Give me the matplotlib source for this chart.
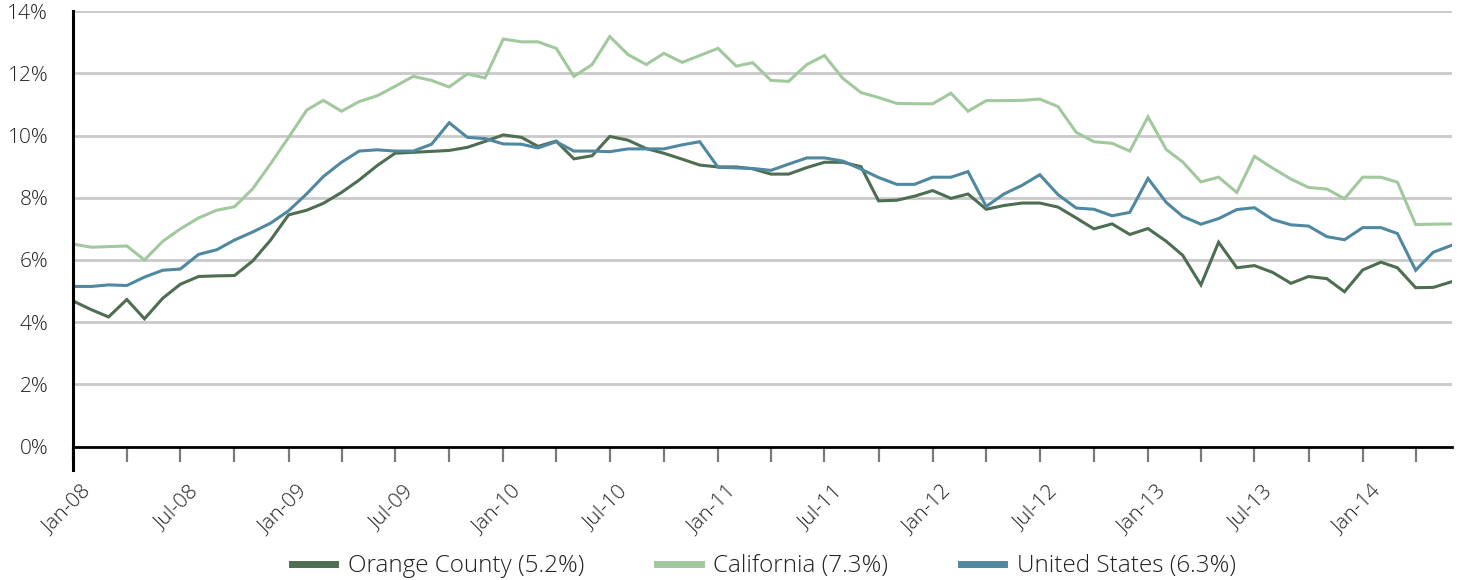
import matplotlib
matplotlib.use('Agg')
import matplotlib.pyplot as plt
import matplotlib.dates as mdates
import matplotlib.transforms as mtransforms
from matplotlib.ticker import FuncFormatter, FixedLocator
import pandas as pd

plt.rcParams['font.family'] = ['Open Sans', 'DejaVu Sans']
plt.rcParams['font.weight'] = 'light'

months = pd.date_range('2008-01-01', periods=78, freq='MS')

orange_county = [4.68, 4.40, 4.17, 4.73, 4.11, 4.77, 5.22, 5.47, 5.49, 5.50,
                 5.97, 6.63, 7.45, 7.60, 7.82, 8.17, 8.57, 9.04, 9.43, 9.46,
                 9.49, 9.52, 9.62, 9.81, 10.02, 9.94, 9.65, 9.82, 9.25, 9.35,
                 9.97, 9.85, 9.58, 9.43, 9.24, 9.05, 8.99, 8.99, 8.93, 8.76,
                 8.76, 8.97, 9.14, 9.14, 9.00, 7.90, 7.92, 8.05, 8.23, 7.98,
                 8.12, 7.63, 7.75, 7.83, 7.83, 7.70, 7.35, 7.00, 7.16, 6.82,
                 7.01, 6.60, 6.15, 5.20, 6.57, 5.75, 5.82, 5.60, 5.25, 5.47,
                 5.40, 4.98, 5.68, 5.93, 5.75, 5.11, 5.12, 5.30]

california = [6.51, 6.41, 6.43, 6.45, 6.00, 6.60, 7.00, 7.35, 7.60, 7.71,
              8.29, 9.08, 9.94, 10.82, 11.13, 10.78, 11.09, 11.28, 11.58, 11.90,
              11.77, 11.56, 11.98, 11.85, 13.10, 13.01, 13.01, 12.80, 11.90, 12.28,
              13.18, 12.60, 12.28, 12.64, 12.35, 12.57, 12.80, 12.23, 12.34, 11.77,
              11.74, 12.28, 12.57, 11.84, 11.38, 11.22, 11.03, 11.02, 11.02, 11.36,
              10.78, 11.12, 11.12, 11.13, 11.17, 10.93, 10.10, 9.80, 9.75, 9.50,
              10.60, 9.55, 9.15, 8.51, 8.66, 8.17, 9.33, 8.95, 8.60, 8.33,
              8.28, 7.97, 8.66, 8.66, 8.50, 7.14, 7.15, 7.16]

united_states = [5.15, 5.15, 5.20, 5.18, 5.45, 5.67, 5.71, 6.18, 6.33, 6.64,
                 6.90, 7.18, 7.58, 8.13, 8.68, 9.14, 9.50, 9.54, 9.50, 9.50,
                 9.72, 10.41, 9.94, 9.90, 9.73, 9.72, 9.60, 9.80, 9.50, 9.50,
                 9.48, 9.57, 9.57, 9.57, 9.70, 9.80, 8.98, 8.96, 8.94, 8.88,
                 9.08, 9.28, 9.28, 9.18, 8.92, 8.65, 8.43, 8.43, 8.66, 8.66,
                 8.84, 7.72, 8.12, 8.40, 8.74, 8.10, 7.67, 7.63, 7.42, 7.53,
                 8.62, 7.85, 7.40, 7.15, 7.33, 7.62, 7.68, 7.30, 7.13, 7.09,
                 6.75, 6.65, 7.04, 7.04, 6.85, 5.67, 6.25, 6.47]

series_labels = ['Orange County (5.2%)', 'California (7.3%)', 'United States (6.3%)']
series_colors = ['#4d6e50', '#a2c89e', '#4f88a0']
y_ticks = [0, 2, 4, 6, 8, 10, 12, 14]

fig = plt.figure(figsize=(14.6, 5.8), dpi=100)
ax = fig.add_axes([0.0502, 0.2298, 0.9440, 0.7512])

for vals, lab, col in zip([orange_county, california, united_states],
                          series_labels, series_colors):
    ax.plot(months, vals, color=col, lw=2.2, label=lab, solid_joinstyle='miter')

ax.set_xlim(months[0], months[-1])
ax.set_ylim(0, 14)
ax.set_yticks(y_ticks)
ax.yaxis.set_major_formatter(FuncFormatter(lambda v, p: f'{v:.0f}%'))
ax.yaxis.grid(True, color='#c9c9c9', lw=2)
ax.set_axisbelow(True)

qticks = [d for d in months if d.month in (1, 4, 7, 10)]
ax.xaxis.set_major_locator(FixedLocator(mdates.date2num(qticks)))

def fmt(v, p):
    d = mdates.num2date(v)
    if d.month in (1, 7):
        return d.strftime('%b-%y')
    return ''
ax.xaxis.set_major_formatter(FuncFormatter(fmt))

ax.tick_params(axis='y', length=0, pad=18, labelsize=15, labelcolor='#222222')
ax.tick_params(axis='x', length=11, width=1.6, color='#7a7a7a', pad=14,
               labelsize=15, labelcolor='#222222')
offset = mtransforms.ScaledTranslation(6 / 72, 0, fig.dpi_scale_trans)
for lbl in ax.get_xticklabels():
    lbl.set_rotation(45)
    lbl.set_ha('right')
    lbl.set_va('top')
    lbl.set_rotation_mode('anchor')
    lbl.set_transform(lbl.get_transform() + offset)

for s in ('top', 'right'):
    ax.spines[s].set_visible(False)
ax.spines['left'].set_color('black')
ax.spines['left'].set_linewidth(2.2)
ax.spines['left'].set_bounds(-0.75, 14)
ax.spines['bottom'].set_color('black')
ax.spines['bottom'].set_linewidth(2.0)

leg = fig.legend(loc='center', bbox_to_anchor=(0.523, 0.024), ncol=3,
                 frameon=False, fontsize=17.5, handlelength=1.8, handletextpad=0.5,
                 columnspacing=3.0)
for h in leg.get_lines():
    h.set_linewidth(5)
for t in leg.get_texts():
    t.set_color('#222222')

fig.savefig('out.png', dpi=100)
